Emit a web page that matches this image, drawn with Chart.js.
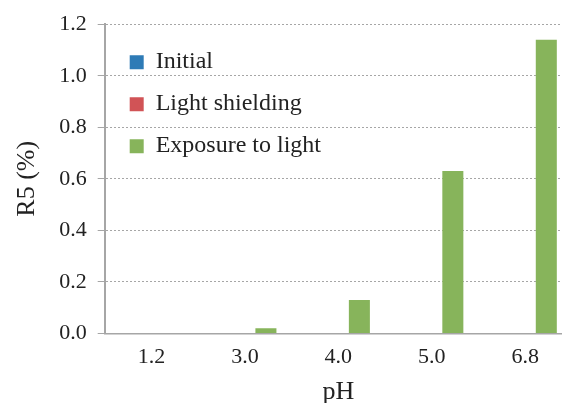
<!DOCTYPE html>
<html><head><meta charset="utf-8">
<script src="https://cdn.jsdelivr.net/npm/chart.js@4/dist/chart.umd.min.js"></script>
<style>html,body{margin:0;padding:0;overflow:hidden;background:#fff}
#wrap{width:562px;height:403px;position:relative;overflow:hidden}</style></head>
<body><div id="wrap"><canvas id="c" width="578" height="417"></canvas></div>
<script>
const categories = ['1.2', '3.0', '4.0', '5.0', '6.8'];
const seriesNames = ['Initial', 'Light shielding', 'Exposure to light'];
const initialValues = [0, 0, 0, 0, 0];
const lightShieldingValues = [0, 0, 0, 0, 0];
const exposureValues = [0, 0.02, 0.13, 0.63, 1.14];
const yTickValues = [0, 0.2, 0.4, 0.6, 0.8, 1.0, 1.2];
const colors = ['#2E7BB6', '#D15356', '#87B45B'];

const FONT = "'Liberation Serif', 'Times New Roman', serif";
const gray = '#a6a6a6';

const legendShift = {
  id: 'legendShift',
  afterLayout(chart) {
    const lg = chart.legend, ca = chart.chartArea;
    if (!lg || !ca) return;
    const w = lg.width;
    lg.left = ca.left + 7;
    lg.top = ca.top + 8;
    lg.right = lg.left + w;
    lg.bottom = ca.bottom;
  }
};

new Chart(document.getElementById('c'), {
  type: 'bar',
  data: {
    labels: categories,
    datasets: [
      { label: seriesNames[0], data: initialValues, backgroundColor: colors[0] },
      { label: seriesNames[1], data: lightShieldingValues, backgroundColor: colors[1] },
      { label: seriesNames[2], data: exposureValues, backgroundColor: colors[2] }
    ]
  },
  options: {
    responsive: false,
    animation: false,
    devicePixelRatio: 1,
    layout: { padding: { left: 0, top: 7, right: 6, bottom: 0 } },
    datasets: { bar: { categoryPercentage: 0.675, barPercentage: 1.0, borderWidth: 0 } },
    plugins: {
      legend: {
        position: 'chartArea',
        align: 'start',
        labels: {
          boxWidth: 14, boxHeight: 14, padding: 18,
          color: '#222', font: { family: FONT, size: 24 }
        }
      },
      tooltip: { enabled: false }
    },
    scales: {
      x: {
        grid: { display: false, drawTicks: false },
        border: { display: true, color: gray, width: 1.5 },
        ticks: { color: '#222', font: { family: FONT, size: 22 }, padding: 11 },
        title: { display: true, text: 'pH', color: '#222', font: { family: FONT, size: 26 }, padding: { top: -5, bottom: 9 } }
      },
      y: {
        min: 0, max: 1.2,
        afterBuildTicks(axis) { axis.ticks = yTickValues.map(v => ({ value: v })); },
        grid: { color: gray, lineWidth: 1, drawTicks: true, tickLength: 7, tickColor: gray, tickBorderDash: [] },
        border: { display: true, color: gray, width: 2, dash: [2, 2] },
        ticks: { color: '#222', font: { family: FONT, size: 22 }, padding: 11,
                 callback: v => Number(v).toFixed(1) },
        title: { display: true, text: 'R5 (%)', color: '#222', font: { family: FONT, size: 26 }, padding: { top: 12, bottom: 5 } }
      }
    }
  },
  plugins: [legendShift]
});
</script></body></html>
